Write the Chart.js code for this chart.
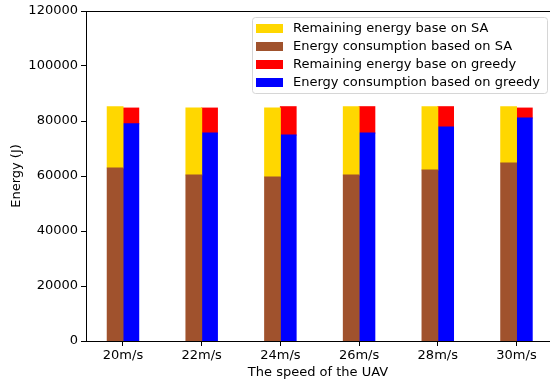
<!DOCTYPE html>
<html>
<head>
<meta charset="utf-8">
<script src="https://cdn.jsdelivr.net/npm/chart.js@4"></script>
<style>
  html, body { margin: 0; padding: 0; background: #fff; overflow: hidden; }
  canvas { display: block; }
</style>
</head>
<body>
<canvas id="grafico" width="550" height="383"></canvas>
<script>
// valores
const speeds = ['20m/s', '22m/s', '24m/s', '26m/s', '28m/s', '30m/s'];
const saConsumption = [62900, 60400, 59600, 60400, 62200, 64700];
const saRemaining = [22300, 24300, 25100, 24800, 23000, 20500];
const greedyConsumption = [79000, 75600, 74900, 75600, 77800, 81100];
const greedyRemaining = [5700, 9100, 10300, 9600, 7400, 3600];
const yTicks = [0, 20000, 40000, 60000, 80000, 100000, 120000];

const fonte = { family: 'DejaVu Sans', size: 13 };

// eixo x numerico (posicao da categoria = indice), para ter as margens do matplotlib
const pontos = (valores) => valores.map((v, i) => ({ x: i, y: v }));

// legenda desenhada dentro da area do grafico (ordem igual a da figura)
const legendOrder = [1, 0, 3, 2];

const caixaLegenda = {
  id: 'caixaLegenda',
  afterDraw(chart) {
    const ctx = chart.ctx;
    const area = chart.chartArea;

    // borda de cima
    ctx.save();
    ctx.strokeStyle = '#000';
    ctx.lineWidth = 1;
    ctx.beginPath();
    ctx.moveTo(area.left, Math.round(area.top) + 0.5);
    ctx.lineTo(area.right, Math.round(area.top) + 0.5);
    ctx.stroke();

    const x = 252.5, y = 17.5, w = 295, h = 76, r = 3;
    ctx.fillStyle = 'rgba(255,255,255,0.8)';
    ctx.strokeStyle = '#d6d6d6';
    ctx.beginPath();
    ctx.roundRect(x, y, w, h, r);
    ctx.fill();
    ctx.stroke();

    ctx.font = '13px "DejaVu Sans"';
    ctx.textBaseline = 'middle';
    ctx.textAlign = 'left';
    legendOrder.forEach((idx, i) => {
      const ds = chart.data.datasets[idx];
      const cy = 28.5 + i * 18;
      ctx.fillStyle = ds.backgroundColor;
      ctx.fillRect(256, cy - 4.5, 27, 9);
      ctx.fillStyle = '#000';
      ctx.fillText(ds.label, 293, cy + 0.5);
    });
    ctx.restore();
  }
};

const grafico = new Chart(document.getElementById('grafico'), {
  type: 'bar',
  data: {
    datasets: [
      { label: 'Energy consumption based on SA', data: pontos(saConsumption), backgroundColor: '#A0522D', stack: 'sa' },
      { label: 'Remaining energy base on SA', data: pontos(saRemaining), backgroundColor: '#FFD700', stack: 'sa' },
      { label: 'Energy consumption based on greedy', data: pontos(greedyConsumption), backgroundColor: '#0000FF', stack: 'greedy' },
      { label: 'Remaining energy base on greedy', data: pontos(greedyRemaining), backgroundColor: '#FF0000', stack: 'greedy' }
    ]
  },
  options: {
    responsive: false,
    animation: false,
    categoryPercentage: 0.4,
    barPercentage: 1.0,
    inflateAmount: 0.5,
    borderWidth: 0,
    layout: { padding: { top: 11, right: 0, left: 0, bottom: 0 } },
    plugins: {
      legend: { display: false },
      tooltip: { enabled: false }
    },
    scales: {
      x: {
        type: 'linear',
        offset: false,
        stacked: true,
        min: -0.47,
        max: 5.426,
        afterFit: (scale) => { scale.height = 42; },
        afterBuildTicks: (scale) => { scale.ticks = speeds.map((s, i) => ({ value: i })); },
        grid: { offset: false, drawOnChartArea: false, drawTicks: true, tickLength: 5, color: '#000' },
        border: { display: true, color: '#000', width: 1 },
        ticks: { color: '#000', font: fonte, padding: 2, maxRotation: 0, autoSkip: false, callback: (v) => speeds[v] },
        title: { display: true, text: 'The speed of the UAV', color: '#000', font: fonte, padding: { top: 0, bottom: 3 } }
      },
      y: {
        stacked: true,
        min: 0,
        max: 120000,
        afterFit: (scale) => { scale.width = 86; },
        afterBuildTicks: (scale) => { scale.ticks = yTicks.map(v => ({ value: v })); },
        grid: { drawOnChartArea: false, drawTicks: true, tickLength: 5, color: '#000' },
        border: { display: true, color: '#000', width: 1 },
        ticks: { color: '#000', font: fonte, padding: 3, callback: (v) => String(v) },
        title: { display: true, text: 'Energy (J)', color: '#000', font: fonte, padding: { top: 9, bottom: 0 } }
      }
    }
  },
  plugins: [caixaLegenda]
});
</script>
</body>
</html>
